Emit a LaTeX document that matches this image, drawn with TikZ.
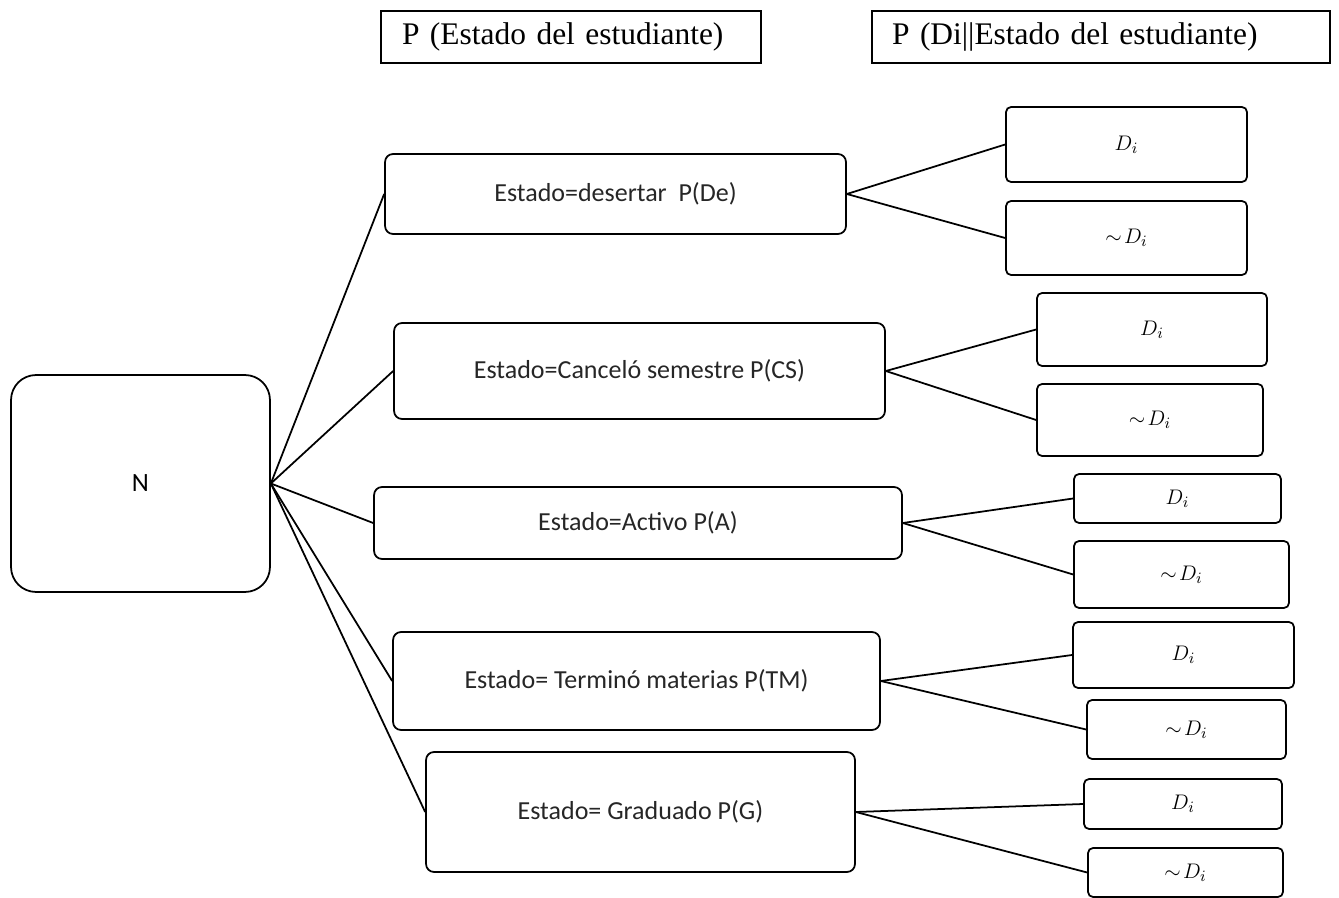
\documentclass[tikz,border=0pt]{standalone}
\usepackage{fontspec}
\setmainfont{Liberation Serif}
\newfontfamily\calibri{Carlito}
\begin{document}
\begin{tikzpicture}[x=0.02cm,y=-0.02cm,line width=1pt,
  titulo/.style={draw,line width=0.8pt,minimum height=1.04cm,align=left,font=\fontsize{17.9}{20}\selectfont},
  raiz/.style={draw,rounded corners=0.5cm,minimum width=5.18cm,minimum height=4.34cm,font=\calibri\fontsize{15}{18}\selectfont},
  estado/.style={draw,rounded corners=0.16cm,text=black!85,font=\calibri\fontsize{14.8}{18}\selectfont},
  evento/.style={draw,rounded corners=0.1cm,font=\fontsize{13}{15}\selectfont}]
\useasboundingbox (0,0) rectangle (1339,898);
% encabezados
\node[titulo,inner xsep=0.42cm,text width=6.76cm] (t1) at (571,37) {P (Estado del estudiante)};
\node[titulo,inner xsep=0.4cm,text width=8.36cm] (t2) at (1101,37) {P (Di||Estado del estudiante)};
% raiz
\node[raiz] (n) at (140.5,483.5) {N};
% estados
\node[estado,minimum width=9.22cm,minimum height=1.6cm] (de) at (615.5,194) {Estado=desertar\ \ P(De)};
\node[estado,minimum width=9.82cm,minimum height=1.92cm] (cs) at (639.5,371) {Estado=Canceló semestre P(CS)};
\node[estado,minimum width=10.56cm,minimum height=1.44cm] (ac) at (638,523) {Estado=Activo P(A)};
\node[estado,minimum width=9.74cm,minimum height=1.96cm] (tm) at (636.5,681) {Estado= Terminó materias P(TM)};
\node[estado,minimum width=8.58cm,minimum height=2.4cm] (gr) at (640.5,812) {Estado= Graduado P(G)};
% D_i y ~D_i
\node[evento,minimum width=4.82cm,minimum height=1.5cm] (de1) at (1126.5,144.5) {$D_i$};
\node[evento,minimum width=4.82cm,minimum height=1.48cm] (de2) at (1126.5,238) {$\sim\! D_i$};
\node[evento,minimum width=4.6cm,minimum height=1.46cm] (cs1) at (1152,329.5) {$D_i$};
\node[evento,minimum width=4.52cm,minimum height=1.44cm] (cs2) at (1150,420) {$\sim\! D_i$};
\node[evento,minimum width=4.14cm,minimum height=0.98cm] (ac1) at (1177.5,498.5) {$D_i$};
\node[evento,minimum width=4.3cm,minimum height=1.34cm] (ac2) at (1181.5,574.5) {$\sim\! D_i$};
\node[evento,minimum width=4.42cm,minimum height=1.32cm] (tm1) at (1183.5,655) {$D_i$};
\node[evento,minimum width=3.98cm,minimum height=1.18cm] (tm2) at (1186.5,729.5) {$\sim\! D_i$};
\node[evento,minimum width=3.96cm,minimum height=1cm] (gr1) at (1183,804) {$D_i$};
\node[evento,minimum width=3.9cm,minimum height=0.98cm] (gr2) at (1185.5,872.5) {$\sim\! D_i$};
% ramas
\foreach \e in {de,cs,ac,tm,gr}{
  \draw (n.east) -- (\e.west);
  \draw (\e.east) -- (\e1.west);
  \draw (\e.east) -- (\e2.west);
}
\end{tikzpicture}
\end{document}
